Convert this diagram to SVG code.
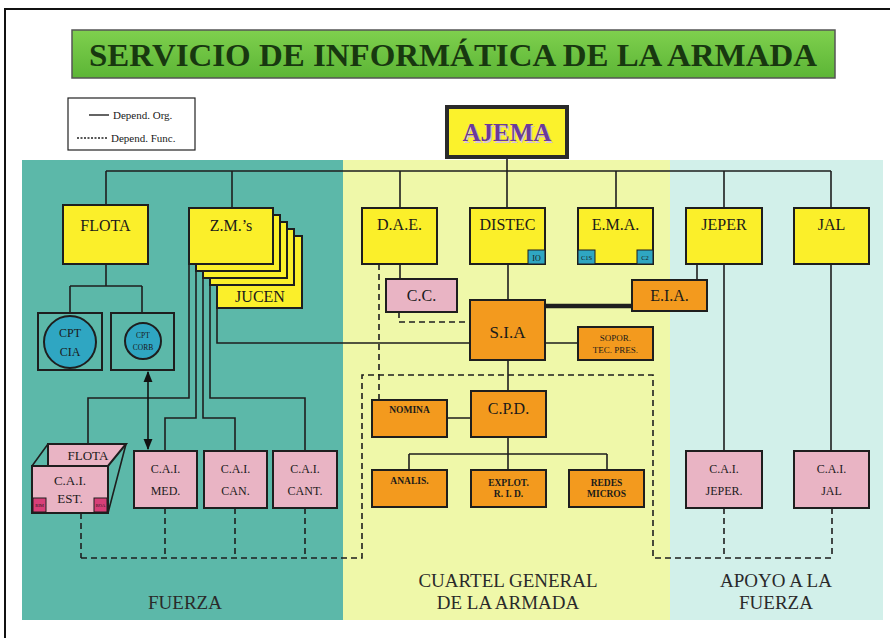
<svg xmlns="http://www.w3.org/2000/svg" width="890" height="638" viewBox="0 0 890 638">
<defs>
<linearGradient id="tg" x1="0" y1="0" x2="0" y2="1">
<stop offset="0" stop-color="#7fd04e"/><stop offset="1" stop-color="#5cb536"/>
</linearGradient>
<marker id="ah" viewBox="0 0 10 10" refX="9" refY="5" markerWidth="7" markerHeight="7" orient="auto-start-reverse">
<path d="M0,1 L10,5 L0,9 z" fill="#111"/>
</marker>
<style>
text{font-family:"Liberation Serif","Times New Roman",serif;fill:#1a1a1a;text-anchor:middle}
.b{stroke:#1e1e1e;stroke-width:2}
.y{fill:#fbef2a}
.p{fill:#e9b4c4}
.o{fill:#f39a1e}
.c{fill:#2fa6c2}
.m{fill:#d83f78}
.l{fill:none;stroke:#1e1e1e;stroke-width:1.6}
.d{fill:none;stroke:#1e1e1e;stroke-width:1.6;stroke-dasharray:6 4}
.t16{font-size:16px}
.t12{font-size:12px}
.t9{font-size:9.5px;font-weight:bold}
.reg{font-size:19px;fill:#2a2a2a}
</style>
</defs>
<rect width="890" height="638" fill="#ffffff"/>
<path d="M5,638 V9 H890" fill="none" stroke="#111" stroke-width="2"/>

<!-- regions -->
<rect x="22" y="160" width="321" height="460" fill="#5cb8a9"/>
<rect x="343" y="160" width="327" height="460" fill="#eff8a9"/>
<rect x="670" y="160" width="213" height="460" fill="#d2f0ea"/>

<!-- title -->
<g id="title">
<rect x="72" y="30" width="763" height="48" fill="url(#tg)" stroke="#555" stroke-width="1.5"/>
<text x="453" y="66" font-size="31" font-weight="bold" style="fill:#183810" textLength="728" lengthAdjust="spacingAndGlyphs">SERVICIO DE INFORMÁTICA DE LA ARMADA</text>
</g>

<!-- legend -->
<g id="legend">
<rect x="68" y="98" width="127" height="52" fill="#fff" stroke="#222" stroke-width="1.2"/>
<line x1="89" y1="115" x2="109" y2="115" stroke="#222" stroke-width="1.4"/>
<text x="113" y="119" font-size="11" style="text-anchor:start">Depend. Org.</text>
<line x1="77" y1="138" x2="107" y2="138" stroke="#222" stroke-width="1.4" stroke-dasharray="2 1.5"/>
<text x="111" y="142" font-size="11" style="text-anchor:start">Depend. Func.</text>
</g>

<!-- connectors -->
<g id="connectors">
<path class="l" d="M507,158 V208 M106,171 H831 M106,171 V205 M232,171 V208 M400,171 V208 M616,171 V208 M724,171 V208 M831,171 V208"/>
<path class="l" d="M106,264 V286 M70,286 H142 M70,286 V313 M142,286 V313"/>
<path class="l" d="M189,264 V398 H88 V444 M196,271 V418 H165 V451 M203,278 V418 H235 V451 M210,285 V398 H305 V451 M217,308 V343 H470"/>
<path class="l" d="M400,264 V279 M508,264 V300 M697,264 V280 M545,343 H578 M508,360 V391 M447,418 H471 M508,437 V454 M409,454 H607 M409,454 V470 M508,454 V470 M607,454 V470"/>
<path class="l" d="M724,264 V451 M831,264 V451"/>
<line x1="545" y1="306" x2="632" y2="306" stroke="#1e1e1e" stroke-width="4.5"/>
<line x1="148" y1="372" x2="148" y2="449" stroke="#111" stroke-width="1.6" marker-start="url(#ah)" marker-end="url(#ah)"/>
<path class="d" d="M379,264 V400 M399,312 V322 H470"/>
<path class="d" d="M81,513 V558 M165,508 V558 M235,508 V558 M305,508 V558 M81,558 H362 V375 H653 V558 H832 M724,508 V558 M832,508 V558"/>
</g>

<!-- AJEMA -->
<g id="ajema">
<rect x="447" y="107" width="120" height="50" fill="#fbf22c" stroke="#2a2a2a" stroke-width="4"/>
<text x="508.5" y="142.5" font-size="25" font-weight="bold" style="fill:#d7c3d9">AJEMA</text>
<text x="507" y="141" font-size="25" font-weight="bold" style="fill:#6b3a9a">AJEMA</text>
</g>

<!-- FUERZA nodes -->
<g id="flota">
<rect class="b y" x="63" y="205" width="85" height="59"/>
<text class="t16" x="105.5" y="231">FLOTA</text>
</g>
<g id="zms">
<rect class="b y" x="217" y="236" width="85" height="72"/>
<text class="t16" x="260" y="302">JUCEN</text>
<rect class="b y" x="210" y="229" width="84" height="56"/>
<rect class="b y" x="203" y="222" width="84" height="56"/>
<rect class="b y" x="196" y="215" width="84" height="56"/>
<rect class="b y" x="189" y="208" width="84" height="56"/>
<text class="t16" x="231" y="231">Z.M.’s</text>
</g>
<g id="cpt-cia">
<rect x="38" y="313" width="64" height="57" fill="none" stroke="#1e1e1e" stroke-width="2"/>
<circle class="b c" cx="70" cy="342" r="26"/>
<text x="70" y="337" font-size="12">CPT</text>
<text x="70" y="356" font-size="12">CIA</text>
</g>
<g id="cpt-corb">
<rect x="111" y="313" width="63" height="57" fill="none" stroke="#1e1e1e" stroke-width="2"/>
<circle class="b c" cx="143" cy="341" r="18"/>
<text x="143" y="338" font-size="7.5">CPT</text>
<text x="143" y="350" font-size="7.5">CORB</text>
</g>
<g id="cai-est">
<polygon points="48,444 126,444 108,466 48,466" class="p" stroke="#1e1e1e" stroke-width="2"/>
<path class="l" d="M32,466 L48,444 M108,513 L126,444" stroke-width="2"/>
<text x="88" y="460" font-size="13">FLOTA</text>
<rect class="b p" x="32" y="466" width="76" height="47"/>
<rect x="33" y="498" width="13" height="14" class="m" stroke="#1e1e1e" stroke-width="1"/>
<rect x="94" y="498" width="13" height="14" class="m" stroke="#1e1e1e" stroke-width="1"/>
<text x="39.5" y="507" font-size="4.5">RIM</text>
<text x="100.5" y="507" font-size="4.5">ROA</text>
<text x="70" y="485" font-size="13">C.A.I.</text>
<text x="70" y="503" font-size="13">EST.</text>
</g>
<g id="cai-med">
<rect class="b p" x="134" y="451" width="63" height="57"/>
<text class="t12" x="165.5" y="473">C.A.I.</text>
<text class="t12" x="165.5" y="495">MED.</text>
</g>
<g id="cai-can">
<rect class="b p" x="204" y="451" width="63" height="57"/>
<text class="t12" x="235.5" y="473">C.A.I.</text>
<text class="t12" x="235.5" y="495">CAN.</text>
</g>
<g id="cai-cant">
<rect class="b p" x="273" y="451" width="64" height="57"/>
<text class="t12" x="305" y="473">C.A.I.</text>
<text class="t12" x="305" y="495">CANT.</text>
</g>

<!-- CUARTEL GENERAL nodes -->
<g id="dae">
<rect class="b y" x="362" y="208" width="75" height="56"/>
<text class="t16" x="399.5" y="230">D.A.E.</text>
</g>
<g id="distec">
<rect class="b y" x="470" y="208" width="75" height="56"/>
<rect x="528" y="250" width="17" height="14" class="c" stroke="#1e1e1e" stroke-width="1"/>
<text x="536.5" y="260.5" font-size="8">IO</text>
<text class="t16" x="507.5" y="230">DISTEC</text>
</g>
<g id="ema">
<rect class="b y" x="578" y="208" width="75" height="56"/>
<rect x="578" y="250" width="17" height="14" class="c" stroke="#1e1e1e" stroke-width="1"/>
<rect x="637" y="250" width="16" height="14" class="c" stroke="#1e1e1e" stroke-width="1"/>
<text x="586.5" y="260" font-size="6.5">C1S</text>
<text x="645" y="260" font-size="6.5">C2</text>
<text class="t16" x="615.5" y="230">E.M.A.</text>
</g>
<g id="cc">
<rect class="b p" x="386" y="279" width="71" height="33"/>
<text class="t16" x="421.5" y="301">C.C.</text>
</g>
<g id="eia">
<rect class="b o" x="632" y="280" width="75" height="31"/>
<text class="t16" x="669.5" y="301">E.I.A.</text>
</g>
<g id="sia">
<rect class="b o" x="470" y="300" width="75" height="60"/>
<text x="507.5" y="338" font-size="17">S.I.A</text>
</g>
<g id="sopor">
<rect class="b o" x="578" y="327" width="75" height="33"/>
<text x="615.5" y="341" font-size="9">SOPOR.</text>
<text x="615.5" y="353" font-size="9">TEC. PRES.</text>
</g>
<g id="cpd">
<rect class="b o" x="471" y="391" width="75" height="46"/>
<text class="t16" x="508.5" y="414">C.P.D.</text>
</g>
<g id="nomina">
<rect class="b o" x="372" y="400" width="75" height="37"/>
<text class="t9" x="409.5" y="413">NOMINA</text>
</g>
<g id="analis">
<rect class="b o" x="372" y="470" width="75" height="37"/>
<text class="t9" x="409.5" y="484">ANALIS.</text>
</g>
<g id="explot">
<rect class="b o" x="471" y="470" width="75" height="37"/>
<text class="t9" x="508.5" y="486">EXPLOT.</text>
<text class="t9" x="508.5" y="497">R. I. D.</text>
</g>
<g id="redes">
<rect class="b o" x="569" y="470" width="75" height="37"/>
<text class="t9" x="606.5" y="486">REDES</text>
<text class="t9" x="606.5" y="497">MICROS</text>
</g>

<!-- APOYO nodes -->
<g id="jeper">
<rect class="b y" x="686" y="208" width="76" height="56"/>
<text class="t16" x="724" y="230">JEPER</text>
</g>
<g id="jal">
<rect class="b y" x="794" y="208" width="75" height="56"/>
<text class="t16" x="831.5" y="230">JAL</text>
</g>
<g id="cai-jeper">
<rect class="b p" x="686" y="451" width="76" height="57"/>
<text class="t12" x="724" y="473">C.A.I.</text>
<text class="t12" x="724" y="495">JEPER.</text>
</g>
<g id="cai-jal">
<rect class="b p" x="794" y="451" width="75" height="57"/>
<text class="t12" x="831.5" y="473">C.A.I.</text>
<text class="t12" x="831.5" y="495">JAL</text>
</g>

<!-- region labels -->
<text class="reg" x="185" y="609">FUERZA</text>
<text class="reg" x="508" y="587">CUARTEL GENERAL</text>
<text class="reg" x="508" y="609">DE LA ARMADA</text>
<text class="reg" x="776" y="587">APOYO A LA</text>
<text class="reg" x="776" y="609">FUERZA</text>
</svg>
